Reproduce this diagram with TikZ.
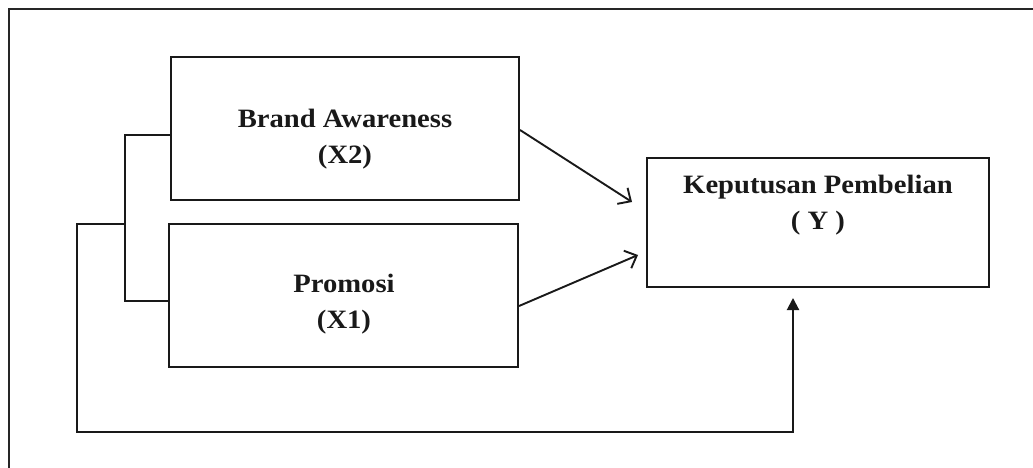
\documentclass[tikz,border=0pt]{standalone}
\usepackage{fontspec}
\setmainfont{Liberation Serif}[FakeStretch=1.08]
\usetikzlibrary{arrows.meta}
\begin{document}
\begin{tikzpicture}[x=1pt,y=-1pt,
  box/.style={draw=black!90, line width=2pt, minimum width=#1, inner sep=0pt},
  lbl/.style={align=center, font=\bfseries\fontsize{26.5}{36}\selectfont, text=black!90},
  conn/.style={draw=black!90, line width=1.9pt},
  openarrow/.style={conn, -{Straight Barb[length=10pt,width=19pt,line width=1.9pt]}},
  solidarrow/.style={conn, line width=2pt, -{Triangle[length=12pt,width=12pt]}}]
\useasboundingbox (0,0) rectangle (1033,468);
% outer frame (only top and left edges visible)
\draw[line width=2pt, black!85] (9,468) -- (9,9) -- (1033,9);
% boxes
\node[box=348pt, minimum height=143pt] (x2) at (345,128.5) {};
\node[box=349pt, minimum height=143pt] (x1) at (343.5,295.5) {};
\node[box=342pt, minimum height=129pt] (y) at (818,222.5) {};
% labels
\node[lbl] (x2t) at (345,139) {Brand Awareness\\(X2)};
\node[lbl] (x1t) at (344,304.5) {Promosi\\(X1)};
\node[lbl] (yt) at (818,205.5) {Keputusan Pembelian\\( Y )};
% bracket joining X2 and X1
\coordinate (b1) at (125,135);
\coordinate (b2) at (125,301);
\coordinate (bm) at (125,224);
\draw[conn] (x2.west |- b1) -- (b1) -- (b2) -- (x1.west |- b2);
% loop to Y
\coordinate (l1) at (77,224);
\coordinate (l2) at (77,432);
\coordinate (l3) at (793,432);
\coordinate (ytip) at (793,298);
\draw[solidarrow] (bm) -- (l1) -- (l2) -- (l3) -- (ytip);
% arrows to Y
\coordinate (a1s) at (519,130);
\coordinate (a1e) at (632,202);
\coordinate (a2s) at (518,306);
\coordinate (a2e) at (638,255);
\draw[openarrow] (x2.east |- a1s) -- (a1e);
\draw[openarrow] (x1.east |- a2s) -- (a2e);
\end{tikzpicture}
\end{document}
